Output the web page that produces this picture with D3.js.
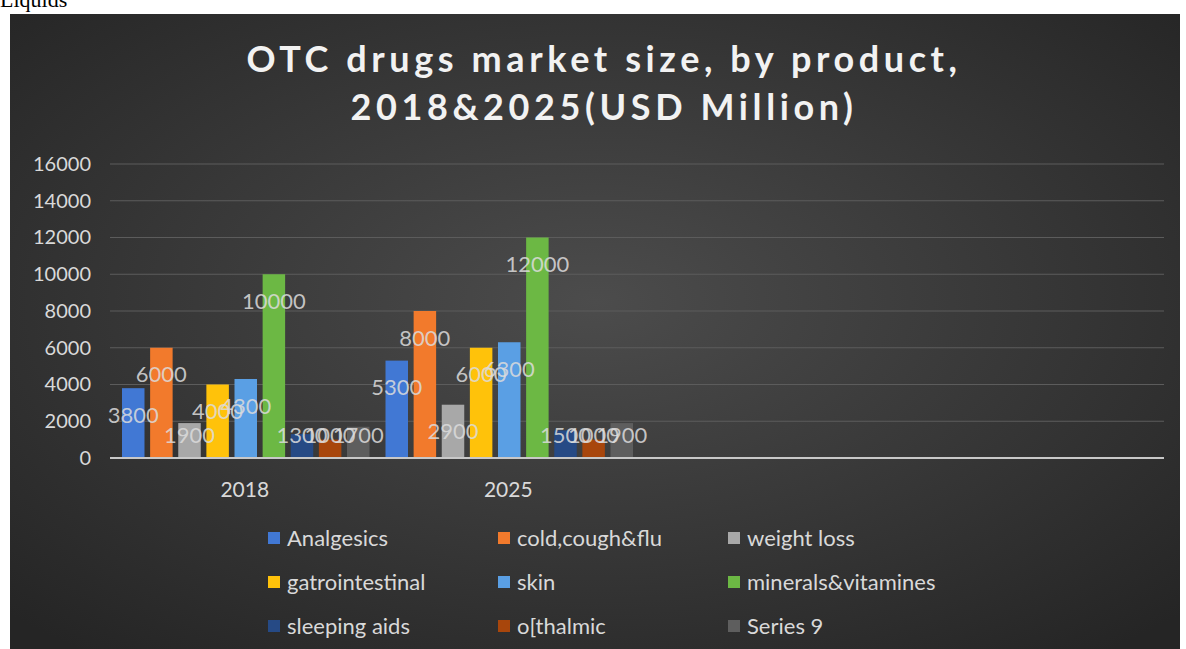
<!DOCTYPE html>
<html>
<head>
<meta charset="utf-8">
<script src="https://cdn.jsdelivr.net/npm/d3@7"></script>
<style>
  body { margin: 0; background: #fff; }
  svg { display: block; }
</style>
</head>
<body>
<svg id="chart" width="1186" height="649"></svg>
<script>
// chart data
let years = ['2018', '2025', 'c3', 'c4']
let series = ['Analgesics', 'cold,cough&flu', 'weight loss', 'gatrointestinal', 'skin',
  'minerals&vitamines', 'sleeping aids', 'o[thalmic', 'Series 9']
let values2018 = [3800, 6000, 1900, 4000, 4300, 10000, 1300, 1000, 1700]
let values2025 = [5300, 8000, 2900, 6000, 6300, 12000, 1500, 1000, 1900]
let colors = ['#4178d4', '#f27a2c', '#a8a8a8', '#ffc20a', '#5a9fe4', '#6cb844', '#264a85', '#a8460c', '#5e5e5e']
let yTicks = [0, 2000, 4000, 6000, 8000, 10000, 12000, 14000, 16000]

let rows = [values2018, values2025, [], []]

let svg = d3.select('#chart')

// page text above the chart panel
svg.append('text')
  .attr('x', 0).attr('y', 7)
  .attr('font-family', 'Liberation Serif, serif')
  .attr('font-size', 22)
  .attr('fill', '#000')
  .text('Liquids')

let defs = svg.append('defs')
let bg = defs.append('radialGradient')
  .attr('id', 'bg')
  .attr('cx', '0.5').attr('cy', '0.45').attr('r', '0.7')
bg.append('stop').attr('offset', '0%').attr('stop-color', '#4c4c4c')
bg.append('stop').attr('offset', '100%').attr('stop-color', '#252525')

svg.append('rect')
  .attr('x', 10).attr('y', 14)
  .attr('width', 1170).attr('height', 640)
  .attr('fill', 'url(#bg)')

// title
svg.append('text')
  .attr('text-anchor', 'middle')
  .attr('font-family', 'Lato, sans-serif')
  .attr('font-weight', 'bold')
  .attr('font-size', 36)
  .attr('letter-spacing', 4.6)
  .attr('fill', '#f2f2f2')
  .selectAll('tspan')
  .data(['OTC drugs market size, by product,', '2018&2025(USD Million)'])
  .enter()
  .append('tspan')
  .attr('x', 604)
  .attr('y', (d, i) => 72 + i * 48)
  .text(d => d)

let x0 = d3.scaleBand().domain(years).range([110, 1164])
let x1 = d3.scaleBand().domain(series).range([12, x0.bandwidth() - 4]).paddingInner(0.2)
let y = d3.scaleLinear().domain([0, 16000]).range([458, 164])

// gridlines
svg.append('g')
  .selectAll('line')
  .data(yTicks.slice(1))
  .enter()
  .append('line')
  .attr('x1', 110).attr('x2', 1164)
  .attr('y1', d => y(d)).attr('y2', d => y(d))
  .attr('stroke', '#5c5c5c')
  .attr('stroke-width', 1)

// y axis labels
let yAxis = svg.append('g')
  .attr('transform', 'translate(91,0)')
  .call(d3.axisLeft(y).tickValues(yTicks).tickFormat(d3.format('d')).tickSize(0).tickPadding(0))
yAxis.select('.domain').remove()
yAxis.selectAll('text')
  .attr('font-family', 'Lato, sans-serif')
  .attr('font-size', 20)
  .attr('fill', '#d9d9d9')

// bars
let groups = svg.append('g')
  .selectAll('g')
  .data(years)
  .enter()
  .append('g')
  .attr('transform', d => 'translate(' + x0(d) + ',0)')

groups.selectAll('rect')
  .data((d, i) => rows[i].map((v, j) => ({ key: series[j], value: v, color: colors[j] })))
  .enter()
  .append('rect')
  .attr('x', d => x1(d.key))
  .attr('width', x1.bandwidth())
  .attr('y', d => y(d.value))
  .attr('height', d => y(0) - y(d.value))
  .attr('fill', d => d.color)

groups.selectAll('text')
  .data((d, i) => rows[i].map((v, j) => ({ key: series[j], value: v })))
  .enter()
  .append('text')
  .attr('x', d => x1(d.key) + x1.bandwidth() / 2)
  .attr('y', d => Math.min(y(d.value) + 27, y(0) - 23))
  .attr('dy', '0.35em')
  .attr('text-anchor', 'middle')
  .attr('font-family', 'Lato, sans-serif')
  .attr('font-size', 22)
  .attr('fill', '#dcdcdc')
  .attr('fill-opacity', 0.85)
  .text(d => d.value)

// baseline
svg.append('line')
  .attr('x1', 110).attr('x2', 1164)
  .attr('y1', y(0)).attr('y2', y(0))
  .attr('stroke', '#c8c8c8')
  .attr('stroke-width', 2)

// category labels
svg.append('g')
  .selectAll('text')
  .data(years.slice(0, 2))
  .enter()
  .append('text')
  .attr('x', d => x0(d) + x0.bandwidth() / 2 + 3)
  .attr('y', 497)
  .attr('text-anchor', 'middle')
  .attr('font-family', 'Lato, sans-serif')
  .attr('font-size', 21)
  .attr('fill', '#d9d9d9')
  .text(d => d)

// legend
let legendCols = [268, 498, 728]
let legend = svg.append('g')
  .selectAll('g')
  .data(series)
  .enter()
  .append('g')
  .attr('transform', (d, i) => 'translate(' + legendCols[i % 3] + ',' + (538 + Math.floor(i / 3) * 44) + ')')

legend.append('rect')
  .attr('x', 0).attr('y', -6)
  .attr('width', 12).attr('height', 12)
  .attr('fill', (d, i) => colors[i])

legend.append('text')
  .attr('x', 19).attr('y', 0)
  .attr('dy', '0.35em')
  .attr('font-family', 'Lato, sans-serif')
  .attr('font-size', 22)
  .attr('fill', '#d9d9d9')
  .text(d => d)
</script>
</body>
</html>
